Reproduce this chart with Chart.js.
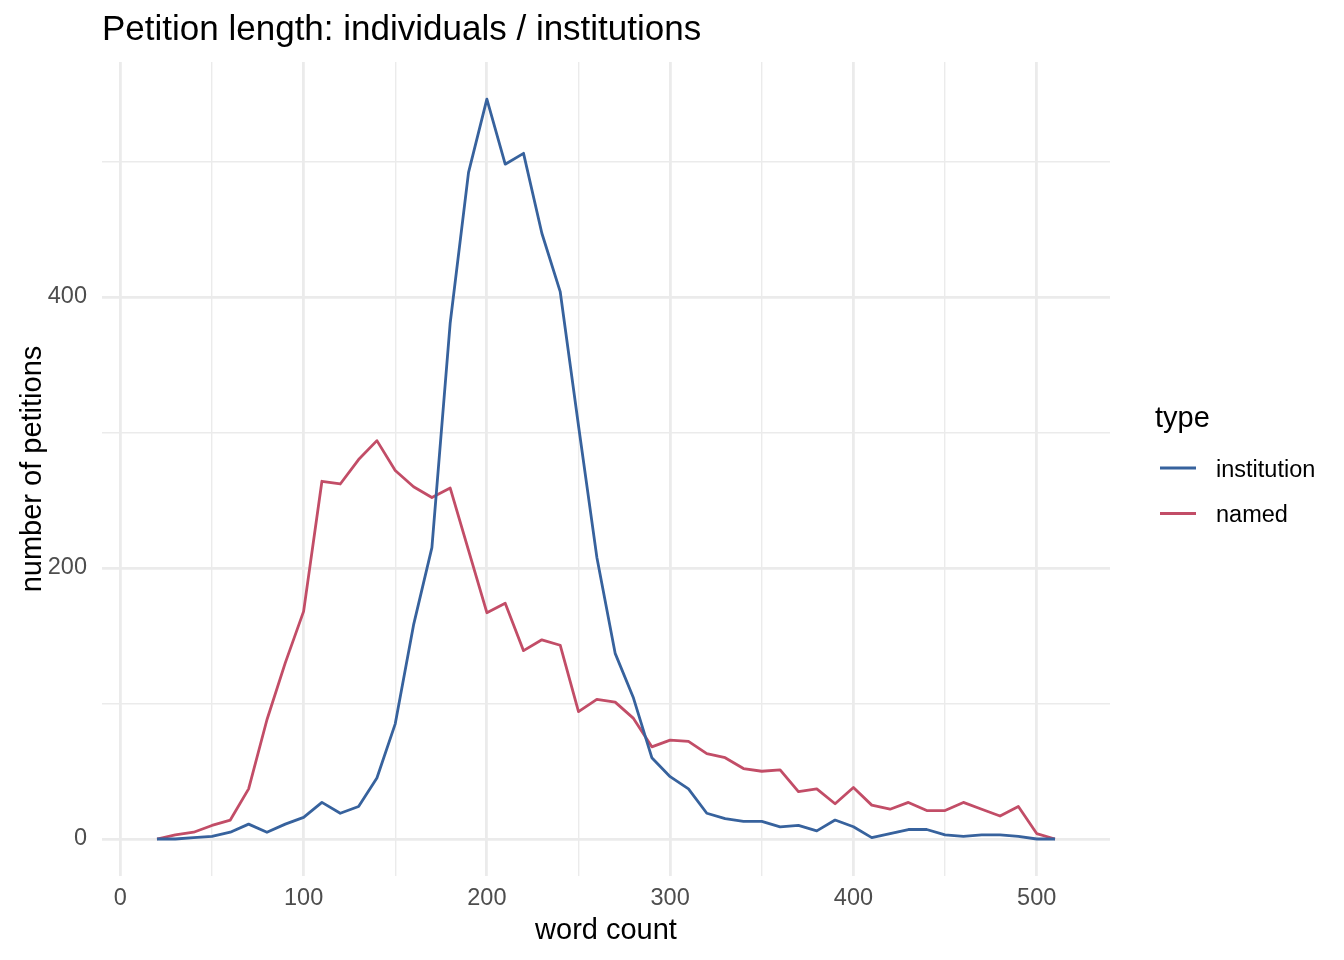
<!DOCTYPE html>
<html>
<head>
<meta charset="utf-8">
<script src="https://cdn.jsdelivr.net/npm/chart.js@4.4.1/dist/chart.umd.min.js"></script>
<style>
  html, body { margin: 0; padding: 0; background: #ffffff; }
  #wrap { width: 1344px; height: 960px; position: relative; }
  canvas { display: block; }
</style>
</head>
<body>
<div id="wrap"><canvas id="c" width="1344" height="960"></canvas></div>
<script>
// ---- data ----
const wordCount = [20, 30, 40, 50, 60, 70, 80, 90, 100, 110, 120, 130, 140, 150, 160, 170, 180, 190, 200, 210,
                   220, 230, 240, 250, 260, 270, 280, 290, 300, 310, 320, 330, 340, 350, 360, 370, 380, 390, 400, 410,
                   420, 430, 440, 450, 460, 470, 480, 490, 500, 510];
const institution = [0, 0, 1, 2, 5, 11, 5, 11, 16, 27, 19, 24, 45, 85, 158, 215, 381, 492, 546, 498,
                     506, 447, 404, 305, 208, 137, 104, 60, 46, 37, 19, 15, 13, 13, 9, 10, 6, 14, 9, 1,
                     4, 7, 7, 3, 2, 3, 3, 2, 0, 0];
const named = [0, 3, 5, 10, 14, 37, 88, 130, 168, 264, 262, 280, 294, 272, 260, 252, 259, 213, 167, 174,
               139, 147, 143, 94, 103, 101, 89, 68, 73, 72, 63, 60, 52, 50, 51, 35, 37, 26, 38, 25,
               22, 27, 21, 21, 27, 22, 17, 24, 4, 0];
const seriesNames = ["institution", "named"];
const xTickLabels = [0, 100, 200, 300, 400, 500];          // labelled (major) x breaks
const xMinorBreaks = [50, 150, 250, 350, 450];             // unlabelled x grid lines
const yTickLabels = [0, 200, 400];                         // labelled (major) y breaks
const yMinorBreaks = [100, 300, 500];                      // unlabelled y grid lines
const titleText = "Petition length: individuals / institutions";
const xTitle = "word count";
const yTitle = "number of petitions";
const legendTitle = "type";

const FONT = "'Liberation Sans', Arial, Helvetica, sans-serif";
const colors = ["#37629D", "#C24D67"];

function toPoints(xs, ys) { return xs.map((x, i) => ({ x: x, y: ys[i] })); }
function buildTicks(major, minor) {
  return major.concat(minor).sort((a, b) => a - b).map(v => ({ value: v }));
}

const textPlugin = {
  id: "textPlugin",
  afterDraw(chart) {
    const ctx = chart.ctx;
    const area = chart.chartArea;
    ctx.save();
    // Title
    ctx.fillStyle = "#000000";
    ctx.font = "35px " + FONT;
    ctx.textAlign = "left";
    ctx.textBaseline = "alphabetic";
    ctx.fillText(titleText, area.left, 40);
    // x title
    ctx.font = "29px " + FONT;
    ctx.textAlign = "center";
    ctx.fillText(xTitle, (area.left + area.right) / 2, 939);
    // y title
    ctx.save();
    ctx.translate(41, (area.top + area.bottom) / 2);
    ctx.rotate(-Math.PI / 2);
    ctx.textAlign = "center";
    ctx.fillText(yTitle, 0, 0);
    ctx.restore();
    // legend
    ctx.textAlign = "left";
    ctx.font = "29px " + FONT;
    ctx.fillText(legendTitle, 1155, 427);
    const ys = [468, 513.5];
    chart.data.datasets.forEach((ds, i) => {
      ctx.strokeStyle = ds.borderColor;
      ctx.lineWidth = 2.8;
      ctx.beginPath();
      ctx.moveTo(1160, ys[i]);
      ctx.lineTo(1196, ys[i]);
      ctx.stroke();
      ctx.fillStyle = "#000000";
      ctx.font = "23.5px " + FONT;
      ctx.textBaseline = "alphabetic";
      ctx.fillText(ds.label, 1216, ys[i] + 8.5);
    });
    ctx.restore();
  }
};

new Chart(document.getElementById("c"), {
  type: "line",
  data: {
    datasets: [
      { label: seriesNames[0], data: toPoints(wordCount, institution), borderColor: colors[0], backgroundColor: colors[0] },
      { label: seriesNames[1], data: toPoints(wordCount, named), borderColor: colors[1], backgroundColor: colors[1] }
    ]
  },
  options: {
    responsive: false,
    animation: false,
    devicePixelRatio: 1,
    layout: { padding: { top: 62, right: 234, left: 0, bottom: 0 } },
    elements: {
      point: { radius: 0, hoverRadius: 0 },
      line: { borderWidth: 2.8, tension: 0, borderJoinStyle: "round", borderCapStyle: "butt" }
    },
    plugins: {
      legend: { display: false },
      title: { display: false },
      tooltip: { enabled: false }
    },
    scales: {
      x: {
        type: "linear",
        min: -10,
        max: 540,
        border: { display: false },
        afterBuildTicks: (s) => { s.ticks = buildTicks(xTickLabels, xMinorBreaks); },
        grid: {
          drawTicks: false,
          color: "#EBEBEB",
          lineWidth: (c) => (c.tick && xTickLabels.includes(c.tick.value)) ? 2.8 : 1.4
        },
        ticks: {
          maxRotation: 0,
          autoSkip: false,
          padding: 8,
          color: "#4D4D4D",
          font: { size: 23.5, family: FONT },
          callback: (v) => xTickLabels.includes(v) ? String(v) : ""
        },
        afterFit: (s) => { s.height = 84; }
      },
      y: {
        type: "linear",
        min: -27.3,
        max: 573.4,
        border: { display: false },
        afterBuildTicks: (s) => { s.ticks = buildTicks(yTickLabels, yMinorBreaks); },
        grid: {
          drawTicks: false,
          color: "#EBEBEB",
          lineWidth: (c) => (c.tick && yTickLabels.includes(c.tick.value)) ? 2.8 : 1.4
        },
        ticks: {
          autoSkip: false,
          padding: 15,
          color: "#4D4D4D",
          font: { size: 23.5, family: FONT },
          callback: (v) => yTickLabels.includes(v) ? String(v) : ""
        },
        afterFit: (s) => { s.width = 102; }
      }
    }
  },
  plugins: [textPlugin]
});
</script>
</body>
</html>
